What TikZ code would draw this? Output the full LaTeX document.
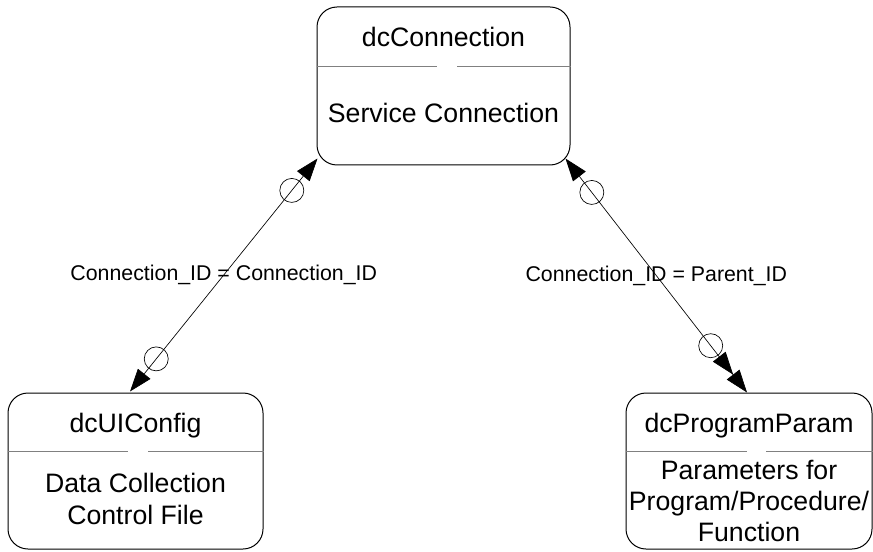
\documentclass[tikz,border=0pt]{standalone}
\usepackage{fontspec}
\setmainfont{Liberation Sans}
\usetikzlibrary{positioning, arrows.meta, calc}

\begin{document}
\begin{tikzpicture}[
  x=0.75pt, y=-0.75pt,
  >={Triangle[length=17pt, width=12pt]},
  tablebox/.style={draw=black, rounded corners=15pt, line width=0.75pt, inner sep=0pt},
  titletxt/.style={font=\fontsize{20}{24}\selectfont, anchor=base},
  bodytxt/.style={font=\fontsize{20}{24}\selectfont, align=center, anchor=base},
  divider/.style={draw=gray, line width=0.75pt},
  rel/.style={draw=black, line width=0.5pt},
  optmark/.style={circle, draw=black, line width=0.5pt, minimum size=18pt, inner sep=0pt},
  rellbl/.style={font=\fontsize{16}{19}\selectfont}
]
\useasboundingbox (0,0) rectangle (873,552);

% --- dcConnection (top) ---
\node[tablebox, minimum width=189.75pt, minimum height=118.5pt] (conn) at (443.5,86) {};
\node[titletxt] (connTitle) at ($(conn.north)+(0,40)$) {dcConnection};
\node[bodytxt] (connBody) at ($(conn.north)+(0,116)$) {Service Connection};
\draw[divider] ($(conn.north west)+(0,60)$) -- ++(120,0);
\draw[divider] ($(conn.north east)+(0,60)$) -- ++(-114,0);

% --- dcUIConfig (bottom left) ---
\node[tablebox, minimum width=191.25pt, minimum height=117pt] (cfg) at (135.5,471) {};
\node[titletxt] (cfgTitle) at ($(cfg.north)+(0,40)$) {dcUIConfig};
\node[bodytxt] (cfgBody) at ($(cfg.north)+(0,132)$) {Data Collection\\Control File};
\draw[divider] ($(cfg.north west)+(0,59)$) -- ++(120,0);
\draw[divider] ($(cfg.north east)+(0,59)$) -- ++(-116,0);

% --- dcProgramParam (bottom right) ---
\node[tablebox, minimum width=184.5pt, minimum height=117pt] (param) at (749,471) {};
\node[titletxt] (paramTitle) at ($(param.north)+(0,40)$) {dcProgramParam};
\node[bodytxt, font=\fontsize{20}{23.25}\selectfont] (paramBody) at ($(param.north)+(0,149)$)
  {Parameters for\\Program/Procedure/\\Function};
\draw[divider] ($(param.north west)+(0,59)$) -- ++(121,0);
\draw[divider] ($(param.north east)+(0,59)$) -- ++(-107,0);

% relationships with optional ends
\draw[rel, <->] ($(conn.south west)+(1,-7)$) --
  node[optmark, pos=0.137] (optA1) {}
  node[rellbl] (lblA) {Connection\_ID = Connection\_ID}
  node[optmark, pos=0.86] (optA2) {}
  ($(cfg.north)+(-5.5,-1)$);
\draw[rel, <->>] ($(conn.south east)+(-5,-7)$) --
  node[optmark, pos=0.145] (optB1) {}
  node[rellbl] (lblB) {Connection\_ID = Parent\_ID}
  node[optmark, pos=0.80] (optB2) {}
  ($(param.north)+(-2,0)$);

\end{tikzpicture}
\end{document}
